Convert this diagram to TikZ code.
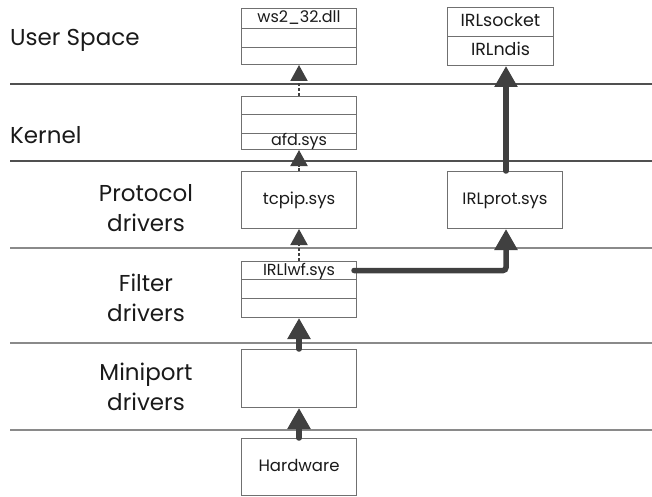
\documentclass[tikz,border=0pt]{standalone}
\usepackage{fontspec}
\setmainfont{Poppins}
\usetikzlibrary{arrows.meta}
\definecolor{lay}{HTML}{8A8A8A}
\definecolor{laytop}{HTML}{505050}
\definecolor{boxc}{HTML}{707070}
\definecolor{arr}{HTML}{404040}
\definecolor{txt}{HTML}{1A1A1A}
\begin{document}
\begin{tikzpicture}[x=1pt,y=-1pt,
  layer/.style={draw=lay,line width=1.2pt},
  lbl/.style={text=txt,font=\fontsize{23}{30}\selectfont,inner sep=0pt},
  cell/.style={draw=boxc,line width=1pt,anchor=north west,inner sep=0pt,text=txt,
    font=\fontsize{16}{17}\selectfont,minimum width=115pt,text height=11pt,text depth=2pt},
  bigcell/.style={cell,font=\fontsize{16.5}{18}\selectfont},
  irlcell/.style={cell,font=\fontsize{17.5}{19}\selectfont,minimum width=106pt,minimum height=29pt},
  dasharrow/.style={draw=arr,line width=2pt,dash pattern=on 3pt off 2pt,
    -{Triangle[width=17pt,length=16pt]}},
  thickarrow/.style={draw=arr,line width=5.5pt,line cap=round,
    -{Triangle[width=22pt,length=21pt]}},
]
\useasboundingbox (0,0) rectangle (652,497);
% layer separators
\draw[layer,draw=laytop] (10,84) -- (652,84);
\draw[layer,draw=laytop] (10,161) -- (652,161);
\draw[layer] (10,248) -- (652,248);
\draw[layer] (10,343) -- (652,343);
\draw[layer] (10,430) -- (652,430);
% layer labels
\node[lbl,anchor=west] (lus) at (10,40) {User Space};
\node[lbl,anchor=west] (lkn) at (10,135) {Kernel};
\node[lbl,align=center] (lpd) at (146,208) {Protocol\\drivers};
\node[lbl,align=center] (lfd) at (146,298) {Filter\\drivers};
\node[lbl,align=center] (lmd) at (146,387) {Miniport\\drivers};
% ws2_32.dll
\node[cell,minimum height=20pt] (ws2a) at (241,8) {ws2\_32.dll};
\node[cell,minimum height=19pt] (ws2b) at (241,28) {};
\node[cell,minimum height=17pt] (ws2c) at (241,47) {};
% afd.sys
\node[cell,minimum height=18pt] (afda) at (241,96) {};
\node[cell,minimum height=19pt] (afdb) at (241,114) {};
\node[cell,minimum height=16pt] (afdc) at (241,133) {afd.sys};
% tcpip
\node[bigcell,minimum height=57pt] (tcpip) at (241,171) {tcpip.sys};
% IRLlwf
\node[cell,minimum height=18pt] (lwfa) at (241,261) {IRLlwf.sys};
\node[cell,minimum height=19pt] (lwfb) at (241,279) {};
\node[cell,minimum height=19pt] (lwfc) at (241,298) {};
% miniport
\node[cell,minimum height=58pt] (mini) at (241,349) {};
% hardware
\node[bigcell,minimum height=57pt] (hw) at (241,438) {Hardware};
% IRL side
\node[irlcell] (irlsock) at (447,7) {IRLsocket};
\node[irlcell] (irlndis) at (447,36) {IRLndis};
\node[bigcell,minimum height=57pt] (irlprot) at (447,171) {IRLprot.sys};
% connectors
\draw[thickarrow] (hw.north) -- (mini.south);
\draw[thickarrow] (mini.north) -- (lwfc.south);
\draw[dasharrow] (lwfa.north) -- (tcpip.south);
\draw[dasharrow] (tcpip.north) -- (afdc.south);
\draw[dasharrow] (afda.north) -- (ws2c.south);
\draw[thickarrow,rounded corners=3pt] ([xshift=-3pt]lwfa.east) -| ([xshift=1pt]irlprot.south);
\draw[thickarrow] ([xshift=1pt]irlprot.north) -- ([xshift=1pt]irlprot.north |- irlndis.south);
\end{tikzpicture}
\end{document}
